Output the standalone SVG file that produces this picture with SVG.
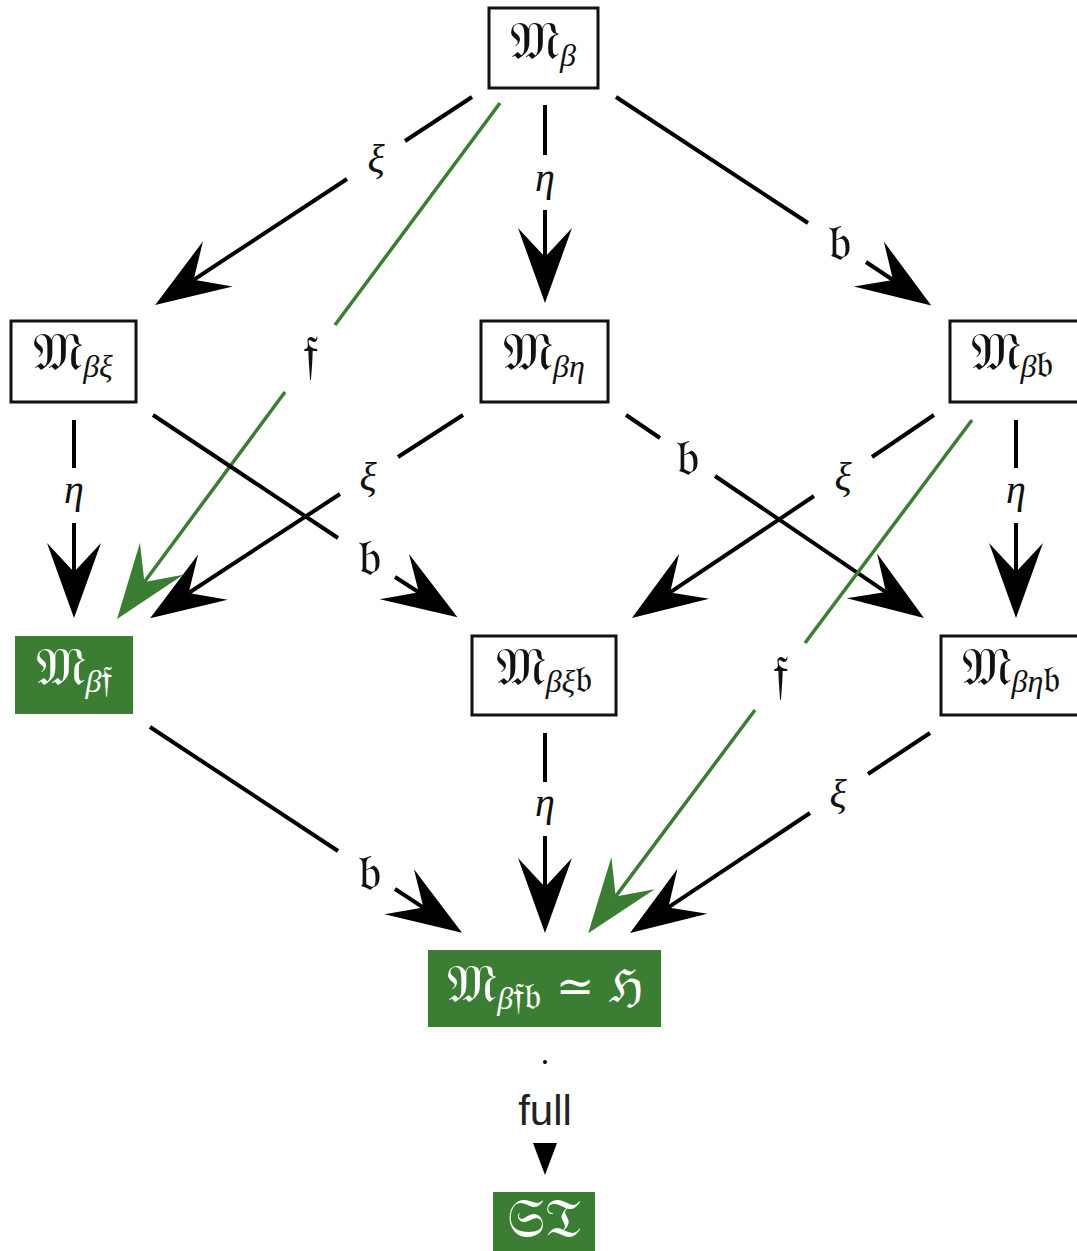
<svg xmlns="http://www.w3.org/2000/svg" width="1077" height="1251" viewBox="0 0 1077 1251">
<style>
.box{fill:#fff;stroke:#111;stroke-width:3}
.gbox{fill:#3b7d33;stroke:none}
.nt{font-family:"DejaVu Serif","Liberation Serif",serif;font-size:54px;fill:#111;text-anchor:middle}
.gt{fill:#fff}
.sub{font-size:38px}
.gk{font-family:"Liberation Serif","DejaVu Serif",serif;font-style:italic;font-size:32px}
.e{fill:none;stroke:#000;stroke-width:4}
.g{fill:none;stroke:#3b7d33;stroke-width:3.5}
.lb{font-family:"Liberation Serif","DejaVu Serif",serif;font-size:40px;font-style:italic;fill:#111;text-anchor:middle}
.fk{font-family:"DejaVu Serif","Liberation Serif",serif;font-size:52px;font-style:normal;fill:#111;text-anchor:middle}
.full{font-family:"Liberation Sans","Open Sans",sans-serif;font-size:42px;fill:#222;text-anchor:middle}
</style>
<defs>
<marker id="ab" markerUnits="userSpaceOnUse" viewBox="-30 -28 78 56" refX="0" refY="0" markerWidth="78" markerHeight="56" orient="auto">
<path d="M46,0 L-29,-27 L0,0 L-29,27 Z" fill="#000"/>
</marker>
<marker id="ag" markerUnits="userSpaceOnUse" viewBox="-30 -28 78 56" refX="0" refY="0" markerWidth="78" markerHeight="56" orient="auto">
<path d="M46,0 L-29,-27 L0,0 L-29,27 Z" fill="#3b7d33"/>
</marker>
</defs>

<g id="connectors">
<path class="e" d="M472,97 L405,141 M347,179 L193.6,279.8" marker-end="url(#ab)"/>
<text class="lb" x="376" y="172">ξ</text>
<path class="e" d="M545,105 L545,155 M545,210 L545,257" marker-end="url(#ab)"/>
<text class="lb" x="545" y="191">η</text>
<path class="e" d="M616,97 L808,223 M866,262 L893,280" marker-end="url(#ab)"/>
<text class="fk" x="840" y="260">𝔟</text>
<path class="g" d="M500,103 L335,325 M285,392 L144.4,582" marker-end="url(#ag)"/>
<text class="fk" x="310" y="372">𝔣</text>
<path class="e" d="M74,420 L74,468 M74,523 L74,572" marker-end="url(#ab)"/>
<text class="lb" x="74" y="503">η</text>
<path class="e" d="M153,415 L338,538 M395,577 L418.8,592.3" marker-end="url(#ab)"/>
<text class="fk" x="370" y="575">𝔟</text>
<path class="e" d="M463,415 L398,457 M340,494 L188.6,593" marker-end="url(#ab)"/>
<text class="lb" x="368" y="490">ξ</text>
<path class="e" d="M626,415 L660,438 M715,476 L885.9,592.1" marker-end="url(#ab)"/>
<text class="fk" x="688" y="475">𝔟</text>
<path class="e" d="M934,415 L872,457 M814,496 L670.1,592.4" marker-end="url(#ab)"/>
<text class="lb" x="843" y="490">ξ</text>
<path class="g" d="M972,420 L805,643 M755,710 L615.7,896.4" marker-end="url(#ag)"/>
<text class="fk" x="780" y="692">𝔣</text>
<path class="e" d="M1016,420 L1016,468 M1016,523 L1016,572" marker-end="url(#ab)"/>
<text class="lb" x="1016" y="503">η</text>
<path class="e" d="M150,727 L338,851 M395,889 L423.5,907.6" marker-end="url(#ab)"/>
<text class="fk" x="370" y="890">𝔟</text>
<path class="e" d="M545,733 L545,782 M545,836 L545,887" marker-end="url(#ab)"/>
<text class="lb" x="545" y="816">η</text>
<path class="e" d="M930,733 L868,774 M810,813 L668.3,907.4" marker-end="url(#ab)"/>
<text class="lb" x="838" y="807">ξ</text>
<circle cx="545" cy="1062" r="2" fill="#000"/>
<text class="full" x="545" y="1125">full</text>
<polygon points="533,1143 557,1143 545,1175" fill="#000"/>
</g>

<g id="n-Mb">
<rect class="box" x="489" y="8" width="109" height="80"/>
<text class="nt" x="543" y="59">𝔐<tspan class="gk" dy="7">β</tspan></text>
</g>
<g id="n-Mbxi">
<rect class="box" x="11" y="321" width="125" height="81"/>
<text class="nt" x="73" y="370">𝔐<tspan class="gk" dy="7">βξ</tspan></text>
</g>
<g id="n-Mbeta">
<rect class="box" x="481" y="321" width="127" height="81"/>
<text class="nt" x="544" y="370">𝔐<tspan class="gk" dy="7">βη</tspan></text>
</g>
<g id="n-Mbb">
<rect class="box" x="950" y="321" width="130" height="81"/>
<text class="nt" x="1012" y="370">𝔐<tspan class="gk" dy="7">β</tspan><tspan class="sub">𝔟</tspan></text>
</g>
<g id="n-Mbf">
<rect class="gbox" x="15" y="636" width="118" height="78"/>
<text class="nt gt" x="74" y="685">𝔐<tspan class="gk" dy="7">β</tspan><tspan class="sub">𝔣</tspan></text>
</g>
<g id="n-Mbxib">
<rect class="box" x="472" y="636" width="144" height="79"/>
<text class="nt" x="544" y="685">𝔐<tspan class="gk" dy="7">βξ</tspan><tspan class="sub">𝔟</tspan></text>
</g>
<g id="n-Mbetab">
<rect class="box" x="941" y="636" width="140" height="79"/>
<text class="nt" x="1011" y="685">𝔐<tspan class="gk" dy="7">βη</tspan><tspan class="sub">𝔟</tspan></text>
</g>
<g id="n-Mbfb">
<rect class="gbox" x="428" y="950" width="233" height="77"/>
<text class="nt gt" x="545" y="1002">𝔐<tspan class="gk" dy="7">β</tspan><tspan class="sub">𝔣𝔟</tspan><tspan dy="-7" font-size="46"> ≃ ℌ</tspan></text>
</g>
<g id="n-ST">
<rect class="gbox" x="493" y="1192" width="102" height="59"/>
<text class="nt gt" x="544" y="1237" font-size="48">𝔖𝔗</text>
</g>
</svg>
